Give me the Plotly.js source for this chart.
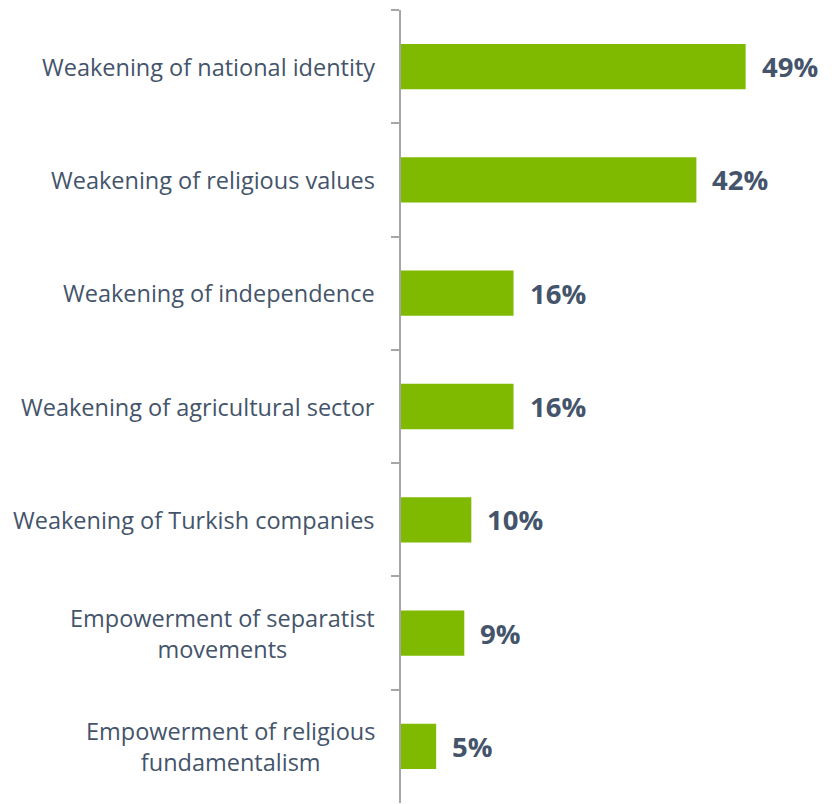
<!DOCTYPE html>
<html><head><meta charset="utf-8">
<script src="https://cdn.plot.ly/plotly-3.0.1.min.js"></script>
<style>html,body{margin:0;padding:0;background:#fff;}</style>
</head><body>
<div id="chart" style="width:835px;height:804px;"></div>
<script>
var categories = ["Weakening of national identity","Weakening of religious values","Weakening of independence","Weakening of agricultural sector","Weakening of Turkish companies","Empowerment of separatist<br>movements","Empowerment of religious<br>fundamentalism"];
var values = [49, 42, 16, 16, 10, 9, 5];
var valueLabels = ["49%","42%","16%","16%","10%","9%","5%"];

var textColor = "#44546a";
var ids = categories.map(function(c,i){return "c"+i;});

var trace = {
  type: "bar", orientation: "h",
  x: values, y: ids,
  width: 0.4,
  marker: {color: "#7fba00"},
  hoverinfo: "skip"
};

var annotations = [];
categories.forEach(function(c,i){
  annotations.push({xref:"paper", yref:"y", x:0, y:ids[i], xanchor:"right", yanchor:"middle",
    xshift:-24, text:c, align:"center", showarrow:false,
    font:{family:"Open Sans", size:23.5, color:textColor}});
  annotations.push({xref:"x", yref:"y", x:values[i], y:ids[i], xanchor:"left", yanchor:"middle",
    xshift:14, text:"<b>"+valueLabels[i]+"</b>", showarrow:false,
    font:{family:"Open Sans", size:27.5, color:textColor}});
});

var layout = {
  width: 835, height: 804,
  margin: {l: 401, r: 12, t: 10, b: 1},
  paper_bgcolor: "#fff", plot_bgcolor: "#fff",
  showlegend: false,
  xaxis: {range: [0, 60], visible: false, fixedrange: true},
  yaxis: {
    autorange: "reversed",
    showticklabels: false,
    showline: true, linecolor: "#a6a6a6", linewidth: 2,
    ticks: "outside", ticklen: 8, tickcolor: "#a6a6a6", tickwidth: 2,
    tickson: "boundaries", showgrid: false, zeroline: false
  },
  annotations: annotations
};

Plotly.newPlot("chart", [trace], layout, {displayModeBar: false, staticPlot: true});
</script>
</body></html>
